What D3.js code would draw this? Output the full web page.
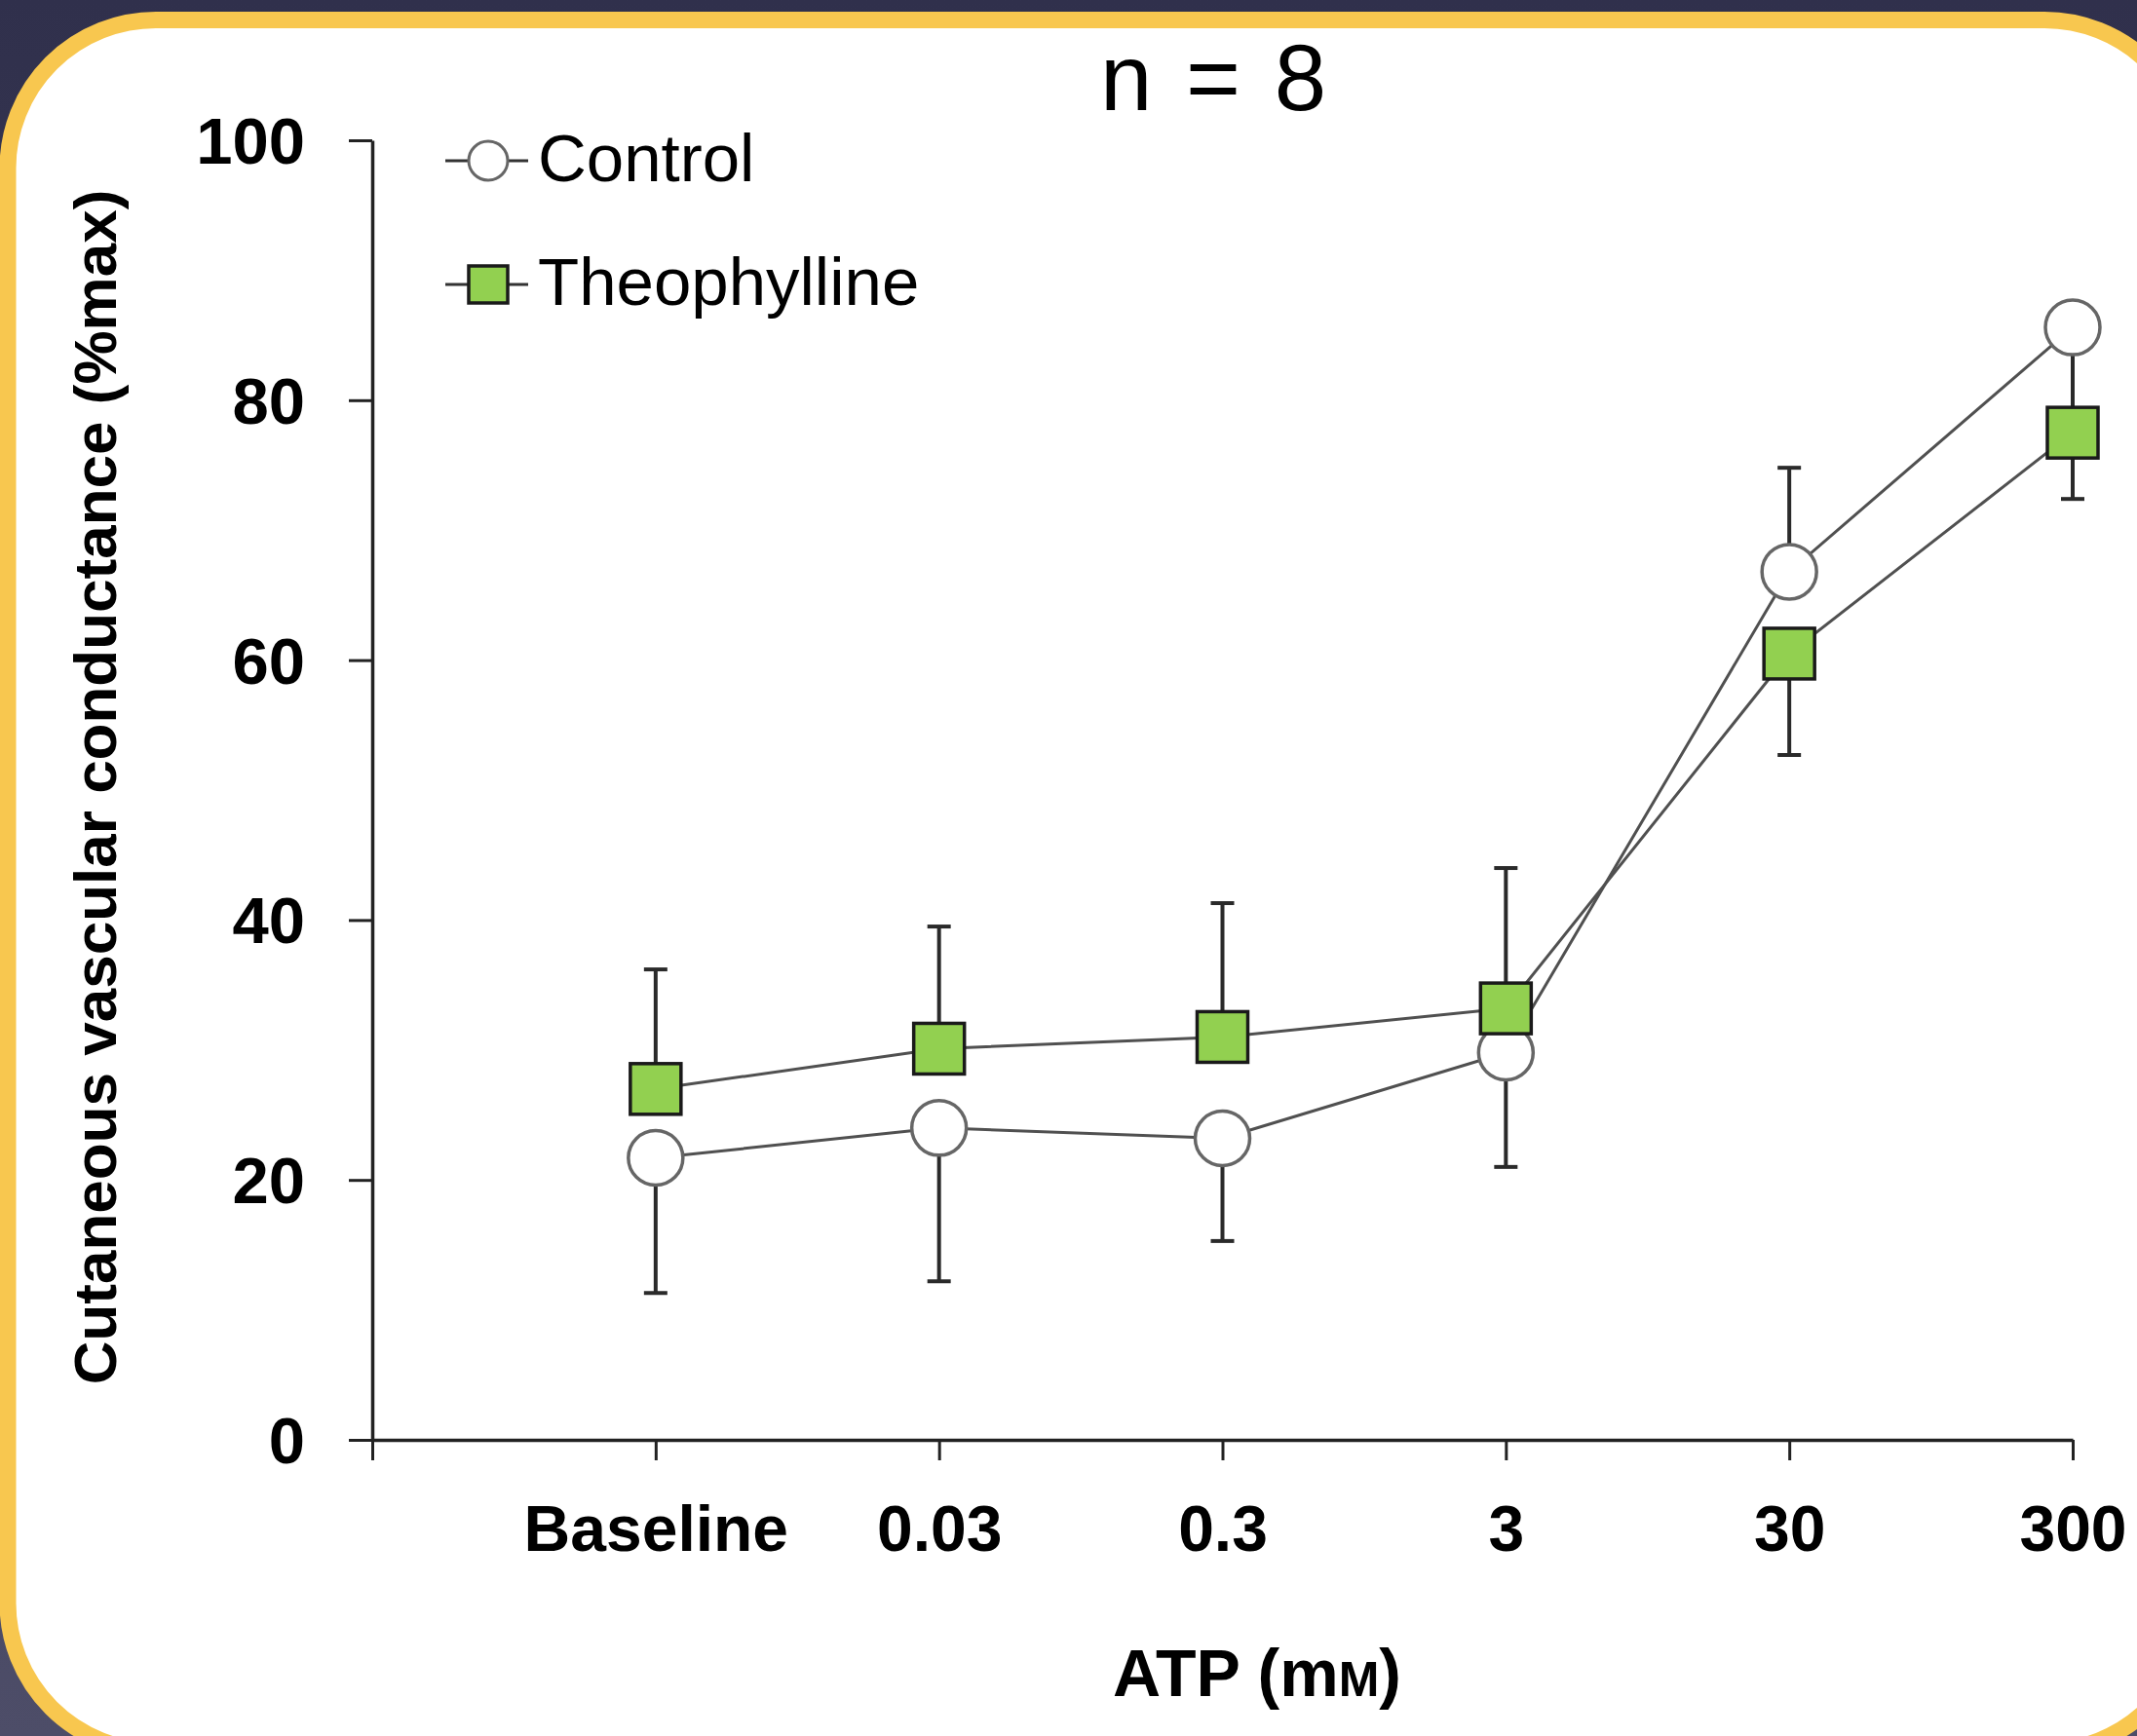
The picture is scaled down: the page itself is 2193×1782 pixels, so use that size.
<!DOCTYPE html>
<html>
<head>
<meta charset="utf-8">
<script src="https://cdn.jsdelivr.net/npm/d3@7"></script>
<style>
  html, body { margin: 0; padding: 0; background: #33334f; }
  svg { display: block; }
  text { font-family: "Liberation Sans", Arial, sans-serif; fill: #000; }
</style>
</head>
<body>
<svg id="chart" width="2193" height="1782"></svg>
<script>
// ---- data ----
const categories = ["Baseline", "0.03", "0.3", "3", "30", "300"];
const controlMean = [21.7, 24.0, 23.2, 29.8, 66.8, 85.6];
const controlErr  = [10.4, 11.8, 7.9, 8.8, 8.0, 7.0];
const controlErrDir = [-1, -1, -1, -1, 1, -1];
const theoMean = [27.0, 30.1, 31.0, 33.2, 60.5, 77.5];
const theoErr  = [9.2, 9.4, 10.3, 10.8, 7.8, 5.1];
const theoErrDir = [1, 1, 1, 1, -1, -1];
const yTicks = [0, 20, 40, 60, 80, 100];
const seriesNames = ["Control", "Theophylline"];

const W = 2193, H = 1782;
const svg = d3.select("#chart");

// background
const defs = svg.append("defs");
const grad = defs.append("linearGradient").attr("id", "bg").attr("x1", 0).attr("y1", 0).attr("x2", 0).attr("y2", 1);
grad.append("stop").attr("offset", "0%").attr("stop-color", "#30304c");
grad.append("stop").attr("offset", "100%").attr("stop-color", "#4d4d68");
svg.append("rect").attr("width", W).attr("height", H).attr("fill", "url(#bg)");

// card
svg.append("rect")
  .attr("x", 8).attr("y", 20.5).attr("width", 2242).attr("height", 1777)
  .attr("rx", 152).attr("ry", 152)
  .attr("fill", "#ffffff").attr("stroke", "#f8c74f").attr("stroke-width", 17);

// scales
const x = d3.scaleLinear().domain([0, 6]).range([382, 2127]);
const y = d3.scaleLinear().domain([0, 100]).range([1478, 144]);

// axes
const xAxis = d3.axisBottom(x)
  .tickValues(d3.range(0, 7))
  .tickFormat(i => i === 0 ? "" : categories[i - 1])
  .tickSize(21).tickSizeOuter(0);
const gx = svg.append("g").attr("transform", `translate(0,${y(0)})`).call(xAxis);
gx.select(".domain").attr("stroke", "#222").attr("stroke-width", 3.5);
gx.selectAll(".tick line").attr("stroke", "#222").attr("stroke-width", 3);
gx.selectAll(".tick text")
  .attr("y", 114).attr("dy", 0)
  .style("font-family", "'Liberation Sans', Arial, sans-serif")
  .style("font-weight", "bold").style("font-size", "66px").attr("fill", "#000");

const yAxis = d3.axisLeft(y).tickValues(yTicks).tickSize(24).tickSizeOuter(0);
const gy = svg.append("g").attr("transform", `translate(${x(0)},0)`).call(yAxis);
gy.select(".domain").attr("stroke", "#222").attr("stroke-width", 3.5);
gy.selectAll(".tick line").attr("stroke", "#222").attr("stroke-width", 3);
gy.selectAll(".tick text")
  .attr("x", -69).attr("dy", "0.35em")
  .style("font-family", "'Liberation Sans', Arial, sans-serif")
  .style("font-weight", "bold").style("font-size", "67px").attr("fill", "#000");

// axis titles
svg.append("text")
  .attr("transform", `translate(119,808) rotate(-90)`)
  .attr("text-anchor", "middle")
  .style("font-weight", "bold").style("font-size", "62px")
  .text("Cutaneous vascular conductance (%max)");

const xt = svg.append("text")
  .attr("x", 1290).attr("y", 1741).attr("text-anchor", "middle")
  .style("font-weight", "bold").style("font-size", "68px");
xt.append("tspan").text("ATP (m");
xt.append("tspan").style("font-size", "50px").text("M");
xt.append("tspan").text(")");

// title
svg.append("text")
  .attr("x", 1247).attr("y", 113).attr("text-anchor", "middle")
  .style("font-size", "96px").style("letter-spacing", "4px")
  .text("n = 8");

// series drawing
const line = d3.line().x((d, i) => x(i + 1)).y(d => y(d));
const capW = 24;

function drawSeries(mean, err, dir, kind) {
  const g = svg.append("g");
  g.append("path").datum(mean).attr("d", line)
    .attr("fill", "none").attr("stroke", "#505050").attr("stroke-width", 3);
  const eb = g.selectAll(".eb").data(mean).enter().append("g");
  eb.append("line")
    .attr("x1", (d, i) => x(i + 1)).attr("x2", (d, i) => x(i + 1))
    .attr("y1", d => y(d)).attr("y2", (d, i) => y(d + dir[i] * err[i]))
    .attr("stroke", "#2a2a2a").attr("stroke-width", 4);
  eb.append("line")
    .attr("x1", (d, i) => x(i + 1) - capW / 2).attr("x2", (d, i) => x(i + 1) + capW / 2)
    .attr("y1", (d, i) => y(d + dir[i] * err[i])).attr("y2", (d, i) => y(d + dir[i] * err[i]))
    .attr("stroke", "#2a2a2a").attr("stroke-width", 4);
  if (kind === "circle") {
    g.selectAll(".m").data(mean).enter().append("circle")
      .attr("cx", (d, i) => x(i + 1)).attr("cy", d => y(d)).attr("r", 28)
      .attr("fill", "#fff").attr("stroke", "#666").attr("stroke-width", 3.5);
  } else {
    const s = 52;
    g.selectAll(".m").data(mean).enter().append("rect")
      .attr("x", (d, i) => x(i + 1) - s / 2).attr("y", d => y(d) - s / 2)
      .attr("width", s).attr("height", s)
      .attr("fill", "#92d050").attr("stroke", "#1a1a1a").attr("stroke-width", 3.5);
  }
}
drawSeries(controlMean, controlErr, controlErrDir, "circle");
drawSeries(theoMean, theoErr, theoErrDir, "square");

// legend
const legend = svg.append("g");
const legY = [165, 292];
seriesNames.forEach((name, k) => {
  legend.append("line").attr("x1", 457).attr("x2", 542).attr("y1", legY[k]).attr("y2", legY[k])
    .attr("stroke", "#333").attr("stroke-width", 3);
  if (k === 0) {
    legend.append("circle").attr("cx", 501).attr("cy", legY[k]).attr("r", 20)
      .attr("fill", "#fff").attr("stroke", "#666").attr("stroke-width", 3);
  } else {
    legend.append("rect").attr("x", 481).attr("y", legY[k] - 19).attr("width", 40).attr("height", 38)
      .attr("fill", "#92d050").attr("stroke", "#1a1a1a").attr("stroke-width", 3.5);
  }
  legend.append("text").attr("x", 552).attr("y", legY[k] + 21)
    .style("font-size", "69px").text(name);
});
</script>
</body>
</html>
